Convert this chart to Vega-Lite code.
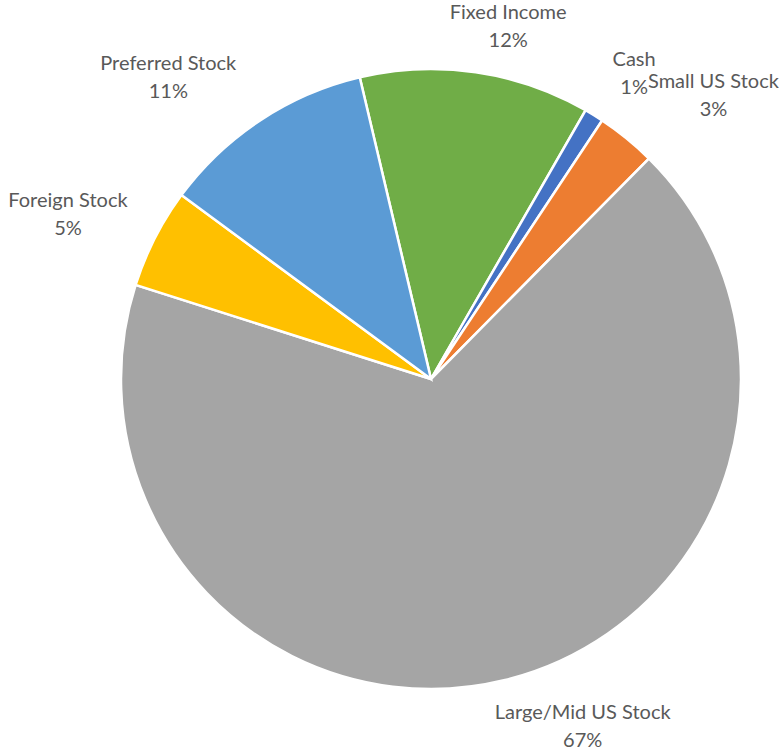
{
  "$schema": "https://vega.github.io/schema/vega-lite/v6.json",
  "autosize": "none",
  "width": 706,
  "height": 748,
  "padding": {"left": 78, "right": 0, "top": 5, "bottom": 0},
  "background": "white",
  "view": {"stroke": null},
  "data": {
    "values": [
      {"category": "Fixed Income", "share": 12.0, "label": "Fixed Income\n12%", "rank": 1},
      {"category": "Cash", "share": 1.0, "label": "Cash\n1%", "rank": 2},
      {"category": "Small US Stock", "share": 3.1, "label": "Small US Stock\n3%", "rank": 3},
      {"category": "Large/Mid US Stock", "share": 67.5, "label": "Large/Mid US Stock\n67%", "rank": 4},
      {"category": "Foreign Stock", "share": 5.2, "label": "Foreign Stock\n5%", "rank": 5},
      {"category": "Preferred Stock", "share": 11.2, "label": "Preferred Stock\n11%", "rank": 6}
    ]
  },
  "encoding": {
    "theta": {"field": "share", "type": "quantitative", "stack": true,
      "scale": {"type": "linear", "domain": [0, 100], "range": [-0.232, 6.0512]}},
    "order": {"field": "rank", "type": "quantitative", "sort": "ascending"}
  },
  "layer": [
    {
      "mark": {"type": "arc", "outerRadius": 310, "stroke": "white", "strokeWidth": 2.5},
      "encoding": {
        "color": {"field": "category", "type": "nominal", "legend": null,
          "scale": {
            "domain": ["Fixed Income", "Cash", "Small US Stock", "Large/Mid US Stock", "Foreign Stock", "Preferred Stock"],
            "range": ["#70AD47", "#4472C4", "#ED7D31", "#A5A5A5", "#FFC000", "#5B9BD5"]}}
      }
    },
    {
      "mark": {"type": "text", "radius": 375, "dx": 23, "dy": 5, "font": "Lato", "fontSize": 20, "color": "#595959", "lineBreak": "\n", "lineHeight": 28, "align": "center", "baseline": "middle"},
      "encoding": {"text": {"condition": {"test": "datum.category == 'Fixed Income'", "field": "label", "type": "nominal"}, "value": ""}}
    },
    {
      "mark": {"type": "text", "radius": 375, "dx": 6, "dy": 0, "font": "Lato", "fontSize": 20, "color": "#595959", "lineBreak": "\n", "lineHeight": 28, "align": "center", "baseline": "middle"},
      "encoding": {"text": {"condition": {"test": "datum.category == 'Cash'", "field": "label", "type": "nominal"}, "value": ""}}
    },
    {
      "mark": {"type": "text", "radius": 375, "dx": 46, "dy": -6, "font": "Lato", "fontSize": 20, "color": "#595959", "lineBreak": "\n", "lineHeight": 28, "align": "center", "baseline": "middle"},
      "encoding": {"text": {"condition": {"test": "datum.category == 'Small US Stock'", "field": "label", "type": "nominal"}, "value": ""}}
    },
    {
      "mark": {"type": "text", "radius": 375, "dx": 62, "dy": -30, "font": "Lato", "fontSize": 20, "color": "#595959", "lineBreak": "\n", "lineHeight": 28, "align": "center", "baseline": "middle"},
      "encoding": {"text": {"condition": {"test": "datum.category == 'Large/Mid US Stock'", "field": "label", "type": "nominal"}, "value": ""}}
    },
    {
      "mark": {"type": "text", "radius": 375, "dx": -29, "dy": -8, "font": "Lato", "fontSize": 20, "color": "#595959", "lineBreak": "\n", "lineHeight": 28, "align": "center", "baseline": "middle"},
      "encoding": {"text": {"condition": {"test": "datum.category == 'Foreign Stock'", "field": "label", "type": "nominal"}, "value": ""}}
    },
    {
      "mark": {"type": "text", "radius": 375, "dx": -56, "dy": -2, "font": "Lato", "fontSize": 20, "color": "#595959", "lineBreak": "\n", "lineHeight": 28, "align": "center", "baseline": "middle"},
      "encoding": {"text": {"condition": {"test": "datum.category == 'Preferred Stock'", "field": "label", "type": "nominal"}, "value": ""}}
    }
  ]
}
